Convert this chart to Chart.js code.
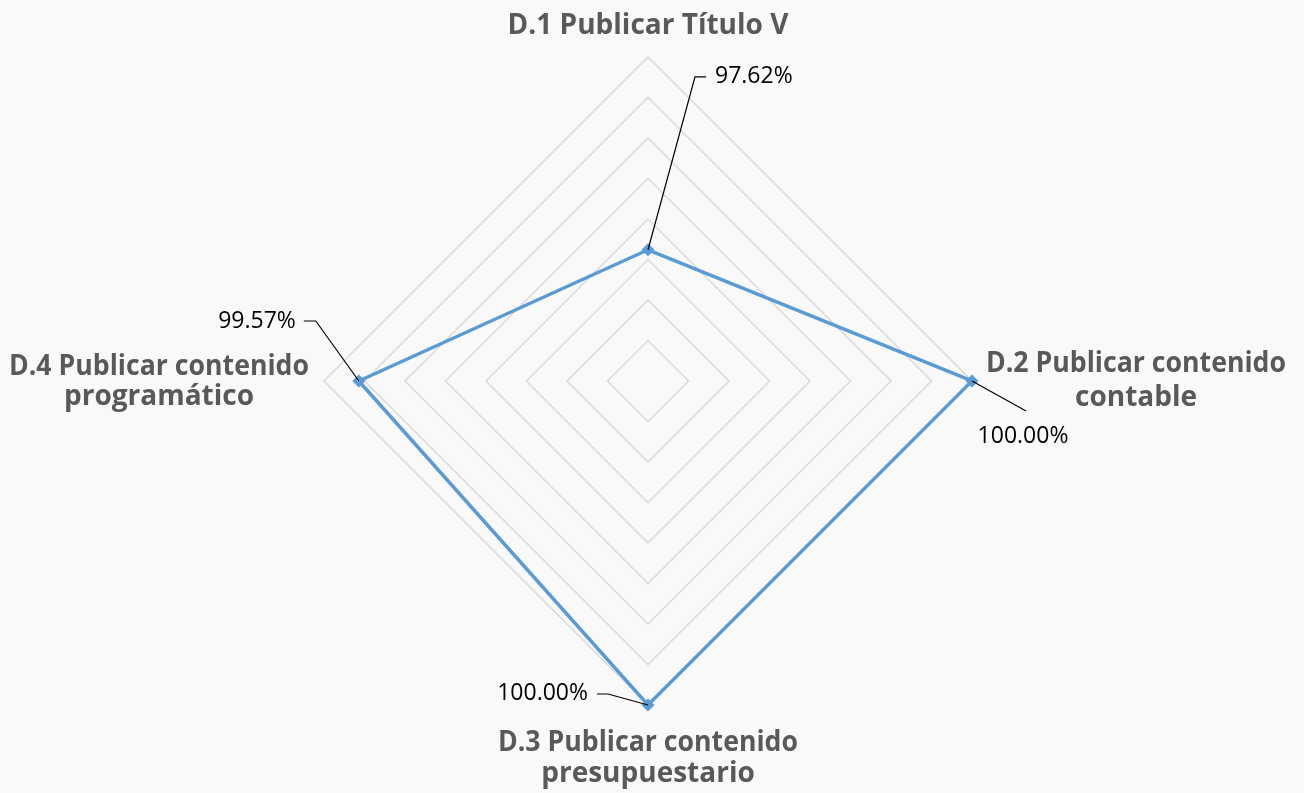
<!DOCTYPE html>
<html>
<head>
<meta charset="utf-8">
<script src="https://cdn.jsdelivr.net/npm/chart.js@4.4.0/dist/chart.umd.min.js"></script>
<style>
  body { margin: 0; background: #f9f9f9; }
  canvas { display: block; }
</style>
</head>
<body>
<canvas id="radarChart" width="1304" height="793"></canvas>
<script>
// categories (each entry = lines of the axis label)
const categories = [
    ["D.1 Publicar Título V"],
    ["D.2 Publicar contenido", "contable"],
    ["D.3 Publicar contenido", "presupuestario"],
    ["D.4 Publicar contenido", "programático"],
];
const values = [97.62, 100.0, 100.0, 99.57];
const valueLabels = ["97.62%", "100.00%", "100.00%", "99.57%"];
const scaleMin = 96;
const scaleMax = 100;
const scaleStep = 0.5;

// label placement, relative to the outer vertex of each axis: [dx, dy] per line
const catOffsets = [
    [[0, -23]],
    [[164, -9], [164, 25]],
    [[0, 46], [0, 77]],
    [[-165, -6], [-165, 24]],
];
// leader line + text placement relative to the data point
const leaders = [
    { path: [[47, -173], [58, -173]], text: [67, -173], align: "left" },
    { path: [[54, 30]], text: [51, 55], align: "center" },
    { path: [[-40, -11], [-51, -11]], text: [-60, -12], align: "right" },
    { path: [[-43, -60], [-55, -60]], text: [-63, -60], align: "right" },
];

const labelPlugin = {
    id: "radarLabels",
    afterDatasetsDraw(chart) {
        const ctx = chart.ctx;
        const scale = chart.scales.r;
        ctx.save();
        // axis labels
        ctx.fillStyle = "#595959";
        ctx.font = "bold 28px 'Open Sans'";
        ctx.textAlign = "center";
        ctx.textBaseline = "alphabetic";
        categories.forEach((lines, i) => {
            const p = scale.getPointPositionForValue(i, scaleMax);
            lines.forEach((line, j) => {
                const o = catOffsets[i][j];
                ctx.fillText(line, p.x + o[0], p.y + o[1], 300);
            });
        });
        // value labels with leader lines
        ctx.font = "23px 'Open Sans'";
        ctx.fillStyle = "#000000";
        ctx.strokeStyle = "#000000";
        ctx.lineWidth = 1.2;
        ctx.textBaseline = "middle";
        values.forEach((v, i) => {
            const p = scale.getPointPositionForValue(i, v);
            const l = leaders[i];
            ctx.beginPath();
            ctx.moveTo(p.x, p.y);
            l.path.forEach(pt => ctx.lineTo(p.x + pt[0], p.y + pt[1]));
            ctx.stroke();
            ctx.textAlign = l.align;
            ctx.fillText(valueLabels[i], p.x + l.text[0], p.y + l.text[1]);
        });
        ctx.restore();
    },
};

const ctx = document.getElementById("radarChart");

new Chart(ctx, {
    type: "radar",
    data: {
        labels: categories.map(c => c.join(" ")),
        datasets: [
            {
                label: "Cumplimiento",
                data: values,
                borderColor: "#5b9bd5",
                backgroundColor: "#5b9bd5",
                borderWidth: 3.5,
                fill: false,
                pointStyle: "rectRot",
                pointRadius: 6.5,
                pointBorderWidth: 0,
                pointBackgroundColor: "#5b9bd5",
                tension: 0,
            },
        ],
    },
    options: {
        responsive: false,
        animation: false,
        layout: {
            padding: { top: 57, bottom: 87, left: 0, right: 8 },
        },
        plugins: {
            legend: { display: false },
            tooltip: { enabled: false },
        },
        scales: {
            r: {
                min: scaleMin,
                max: scaleMax,
                ticks: { stepSize: scaleStep, display: false },
                grid: { circular: false, color: "#d9d9d9", lineWidth: 1.5 },
                angleLines: { display: false },
                pointLabels: { display: false },
            },
        },
    },
    plugins: [labelPlugin],
});
</script>
</body>
</html>
